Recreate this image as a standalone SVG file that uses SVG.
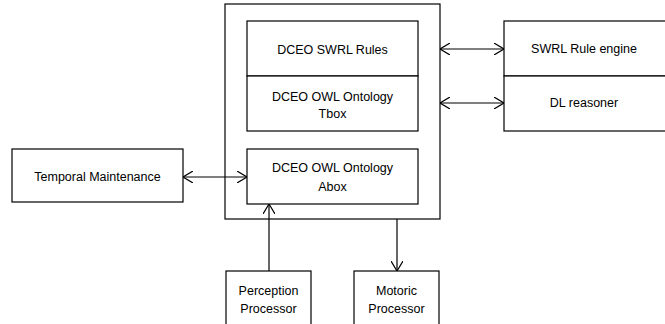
<svg xmlns="http://www.w3.org/2000/svg" width="665" height="324" viewBox="0 0 665 324">
<defs>
<marker id="arr" viewBox="0 0 10 12" refX="10" refY="6" markerWidth="10" markerHeight="12" markerUnits="userSpaceOnUse" orient="auto-start-reverse">
<path d="M0,0 L10,6 L0,12" fill="none" stroke="#000" stroke-width="1.2"/>
</marker>
<style>
.box{fill:#fff;stroke:#000;stroke-width:1.2}
.t{font-family:"Liberation Sans",Arial,sans-serif;font-size:12.5px;fill:#000;text-anchor:middle;dominant-baseline:central}
.c{stroke:#000;stroke-width:1.2;fill:none}
</style>
</defs>
<rect width="665" height="324" fill="#fff"/>
<g id="container"><rect class="box" x="225" y="4" width="215" height="215"/></g>
<g id="swrl-rules"><rect class="box" x="247" y="21" width="171" height="55"/><text class="t" x="332.5" y="50">DCEO SWRL Rules</text></g>
<g id="tbox"><rect class="box" x="247" y="76" width="171" height="55"/><text class="t" x="332.5" y="97">DCEO OWL Ontology</text><text class="t" x="332.5" y="114">Tbox</text></g>
<g id="abox"><rect class="box" x="247" y="149" width="171" height="55"/><text class="t" x="332.5" y="168">DCEO OWL Ontology</text><text class="t" x="332.5" y="187">Abox</text></g>
<g id="swrl-engine"><rect class="box" x="504" y="21" width="162" height="55"/><text class="t" x="584" y="49">SWRL Rule engine</text></g>
<g id="dl-reasoner"><rect class="box" x="504" y="76" width="162" height="55"/><text class="t" x="584" y="103">DL reasoner</text></g>
<g id="temporal"><rect class="box" x="12" y="149" width="171" height="53"/><text class="t" x="97.5" y="177">Temporal Maintenance</text></g>
<g id="perception"><rect class="box" x="226" y="271" width="85" height="55"/><text class="t" x="268.5" y="291">Perception</text><text class="t" x="268.5" y="309">Processor</text></g>
<g id="motoric"><rect class="box" x="354" y="271" width="85" height="55"/><text class="t" x="396.5" y="291">Motoric</text><text class="t" x="396.5" y="309">Processor</text></g>
<g id="connectors">
<line class="c" x1="440" y1="49" x2="504" y2="49" marker-start="url(#arr)" marker-end="url(#arr)"/>
<line class="c" x1="440" y1="103" x2="504" y2="103" marker-start="url(#arr)" marker-end="url(#arr)"/>
<line class="c" x1="183" y1="177" x2="247" y2="177" marker-start="url(#arr)" marker-end="url(#arr)"/>
<line class="c" x1="269" y1="271" x2="269" y2="204" marker-end="url(#arr)"/>
<line class="c" x1="397" y1="219" x2="397" y2="271" marker-end="url(#arr)"/>
</g>
</svg>
